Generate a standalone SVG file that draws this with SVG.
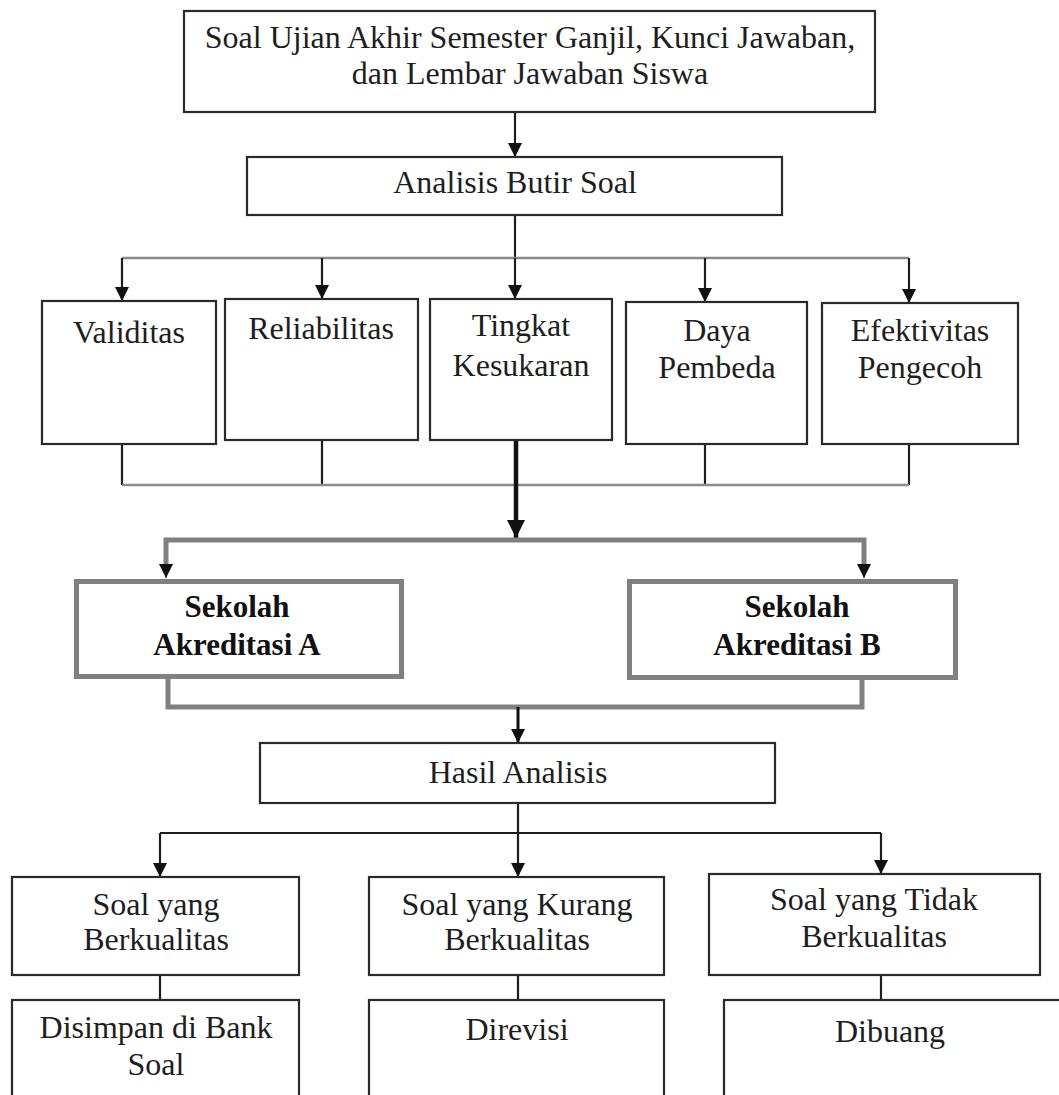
<svg xmlns="http://www.w3.org/2000/svg" width="1059" height="1095" viewBox="0 0 1059 1095">
<style>
.box{fill:#fff;stroke:#2a2a2a;stroke-width:2.2}
.gbox{fill:#fff;stroke:#808080;stroke-width:5}
.t{font-family:"Liberation Serif","Times New Roman",serif;font-size:32px;fill:#1e1e1e;text-anchor:middle}
.b{font-family:"Liberation Serif","Times New Roman",serif;font-size:31px;font-weight:bold;fill:#111;text-anchor:middle}
.blk{stroke:#1e1e1e;stroke-width:2.2;fill:none}
.gry{stroke:#8a8a8a;stroke-width:2.5;fill:none}
.gthick{stroke:#808080;stroke-width:5;fill:none}
</style>
<defs>
<marker id="arr" markerUnits="userSpaceOnUse" markerWidth="14" markerHeight="14" viewBox="0 0 14 14" refX="14" refY="7" orient="auto"><path d="M0,0 L14,7 L0,14 z" fill="#111"/></marker>
<marker id="arrL" markerUnits="userSpaceOnUse" markerWidth="18" markerHeight="18" viewBox="0 0 18 18" refX="18" refY="9" orient="auto"><path d="M0,0 L18,9 L0,18 z" fill="#111"/></marker>
</defs>
<rect width="1059" height="1095" fill="#fff"/>
<g id="connectors">
<line class="blk" x1="515" y1="112" x2="515" y2="157" marker-end="url(#arr)"/>
<line class="blk" x1="515" y1="215" x2="515" y2="258"/>
<line class="gry" x1="122" y1="258" x2="909" y2="258"/>
<line class="blk" x1="122" y1="258" x2="122" y2="301" marker-end="url(#arr)"/>
<line class="blk" x1="322" y1="258" x2="322" y2="299" marker-end="url(#arr)"/>
<line class="blk" x1="515" y1="258" x2="515" y2="299" marker-end="url(#arr)"/>
<line class="blk" x1="705" y1="258" x2="705" y2="302" marker-end="url(#arr)"/>
<line class="blk" x1="909" y1="258" x2="909" y2="303" marker-end="url(#arr)"/>
<line class="blk" x1="122" y1="444" x2="122" y2="485"/>
<line class="blk" x1="322" y1="440" x2="322" y2="485"/>
<line class="blk" x1="705" y1="444" x2="705" y2="485"/>
<line class="blk" x1="909" y1="444" x2="909" y2="485"/>
<line class="gry" x1="122" y1="485" x2="909" y2="485"/>
<line stroke="#111" stroke-width="4.5" x1="516" y1="440" x2="516" y2="538" marker-end="url(#arrL)"/>
<polyline class="gthick" points="166,565 166,540 864,540 864,565"/>
<line stroke="#111" stroke-width="1" x1="166" y1="564" x2="166" y2="578" marker-end="url(#arr)"/>
<line stroke="#111" stroke-width="1" x1="864" y1="564" x2="864" y2="578" marker-end="url(#arr)"/>
<polyline class="gthick" points="168,679 168,707 862,707 862,680"/>
<line stroke="#111" stroke-width="3" x1="518" y1="707" x2="518" y2="743" marker-end="url(#arr)"/>
<line class="blk" x1="518" y1="803" x2="518" y2="833"/>
<line class="blk" x1="160" y1="833" x2="881" y2="833"/>
<line class="blk" x1="160" y1="833" x2="160" y2="877" marker-end="url(#arr)"/>
<line class="blk" x1="518" y1="833" x2="518" y2="877" marker-end="url(#arr)"/>
<line class="blk" x1="881" y1="833" x2="881" y2="874" marker-end="url(#arr)"/>
<line class="blk" x1="160" y1="975" x2="160" y2="1000"/>
<line class="blk" x1="518" y1="975" x2="518" y2="1000"/>
<line class="blk" x1="881" y1="975" x2="881" y2="1000"/>
</g>
<g id="n-top"><rect class="box" x="184" y="11" width="691" height="101"/>
<text class="t" x="530" y="48">Soal Ujian Akhir Semester Ganjil, Kunci Jawaban,</text>
<text class="t" x="530" y="84">dan Lembar Jawaban Siswa</text></g>
<g id="n-analisis"><rect class="box" x="247" y="157" width="535" height="58"/>
<text class="t" x="515" y="193">Analisis Butir Soal</text></g>
<g id="n-validitas"><rect class="box" x="42" y="301" width="174" height="143"/>
<text class="t" x="129" y="343">Validitas</text></g>
<g id="n-reliabilitas"><rect class="box" x="225" y="299" width="193" height="141"/>
<text class="t" x="321" y="339">Reliabilitas</text></g>
<g id="n-tingkat"><rect class="box" x="430" y="299" width="182" height="141"/>
<text class="t" x="521" y="336">Tingkat</text>
<text class="t" x="521" y="376">Kesukaran</text></g>
<g id="n-daya"><rect class="box" x="626" y="302" width="181" height="142"/>
<text class="t" x="717" y="341">Daya</text>
<text class="t" x="717" y="378">Pembeda</text></g>
<g id="n-efektivitas"><rect class="box" x="822" y="303" width="196" height="141"/>
<text class="t" x="920" y="341">Efektivitas</text>
<text class="t" x="920" y="378">Pengecoh</text></g>
<g id="n-sekolahA"><rect class="gbox" x="76.5" y="581.5" width="325" height="95"/>
<text class="b" x="237" y="617">Sekolah</text>
<text class="b" x="237" y="655">Akreditasi A</text></g>
<g id="n-sekolahB"><rect class="gbox" x="629.5" y="581.5" width="326" height="96"/>
<text class="b" x="797" y="617">Sekolah</text>
<text class="b" x="797" y="655">Akreditasi B</text></g>
<g id="n-hasil"><rect class="box" x="260" y="743" width="515" height="60"/>
<text class="t" x="518" y="783">Hasil Analisis</text></g>
<g id="n-berkualitas"><rect class="box" x="12" y="877" width="287" height="98"/>
<text class="t" x="156" y="915">Soal yang</text>
<text class="t" x="156" y="950">Berkualitas</text></g>
<g id="n-kurang"><rect class="box" x="369" y="877" width="295" height="98"/>
<text class="t" x="517" y="915">Soal yang Kurang</text>
<text class="t" x="517" y="950">Berkualitas</text></g>
<g id="n-tidak"><rect class="box" x="709" y="874" width="331" height="101"/>
<text class="t" x="874" y="910">Soal yang Tidak</text>
<text class="t" x="874" y="947">Berkualitas</text></g>
<g id="n-disimpan"><rect class="box" x="12" y="1000" width="287" height="110"/>
<text class="t" x="156" y="1038">Disimpan di Bank</text>
<text class="t" x="156" y="1075">Soal</text></g>
<g id="n-direvisi"><rect class="box" x="369" y="1000" width="295" height="110"/>
<text class="t" x="517" y="1040">Direvisi</text></g>
<g id="n-dibuang"><rect class="box" x="724" y="1000" width="350" height="110"/>
<text class="t" x="890" y="1042">Dibuang</text></g>
</svg>
